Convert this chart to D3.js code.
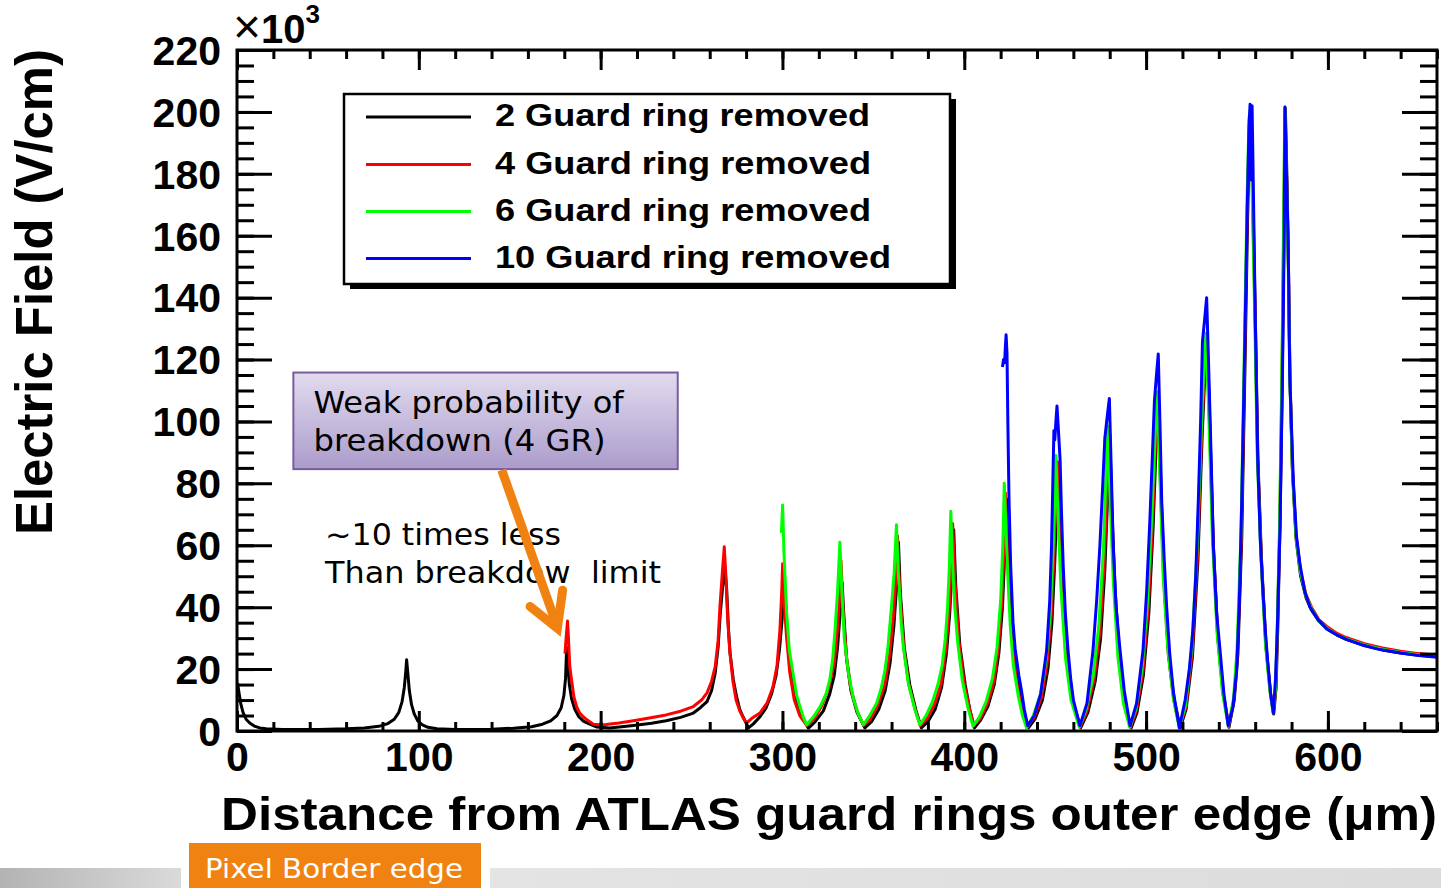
<!DOCTYPE html>
<html>
<head>
<meta charset="utf-8">
<script src="https://cdn.jsdelivr.net/npm/d3@7"></script>
<style>
  html, body { margin: 0; padding: 0; background: #ffffff; }
  svg { display: block; }
</style>
</head>
<body>
<svg id="chart" width="1441" height="888"></svg>
<script>
// Electric field (in units of 10^3 V/cm) versus distance from the ATLAS guard rings outer edge (um)

const seriesNames = [
  "2 Guard ring removed",
  "4 Guard ring removed",
  "6 Guard ring removed",
  "10 Guard ring removed"
];
const seriesColors = ["#000000", "#ff0000", "#00ff00", "#0000ff"];

// [distance (um), field (x10^3 V/cm)]
const gr2 = [
  [0.3,15.5],[1.2,12],[2.2,8.5],[3.3,6],[5,3.8],[7,2.6],[9.5,1.6],[12.5,1.0],[16,0.7],[25,0.5],
  [45,0.5],[60,0.7],[70,1.0],[78,1.5],[83,2.4],[86.5,3.8],[89,6],[90.8,9.5],[92,14],[92.8,19],
  [93.3,23],[93.9,19],[94.8,13],[96,8.5],[97.5,5.5],[99.5,3.2],[102,2],[105,1.2],[110,0.7],[120,0.5],
  [140,0.6],[152,0.9],[162,1.4],[168,2.2],[172.5,3.3],[176,5],[178.3,7.5],[179.8,11.5],[180.7,17],[181.3,27],
  [182,21],[182.8,15],[184,10.5],[185.8,7],[188,4.6],[190.5,3.2],[194,2.2],[198,1.3],[205,1.0],[218,1.8],
  [228,2.5],[236,3.3],[244,4.4],[251,5.8],[255,7.6],[258.5,9.5],[261,13],[263,18.7],[264.6,27],[265.8,38],
  [267,46],[268.4,52],[269.3,46],[270.3,33],[271.2,25],[273,16.5],[274.8,11],[276.5,7],[278.3,4.6],[281.3,1.0],
  [284,2.3],[287.5,4.5],[291,7.5],[294,12],[296.5,18],[298.3,26],[299.8,36],[301,49],[301.9,40],[303.2,27],
  [305,17],[307.5,9.5],[310.5,4.5],[314.3,0.9],[318,3],[322.5,6.5],[326,12],[328.5,18],[330.3,27],[331.6,37],
  [332.8,48],[333.7,38],[335.3,23],[337.7,13],[341,6],[345.3,1.0],[349,3],[353,7],[356.5,13],[359.2,22],
  [361.3,34],[362.8,47],[363.8,61],[364.8,45],[367,27],[370,15],[373.5,6.5],[376.4,1.0],[380,3],[384,7],
  [387.5,14],[390.2,25],[392,38],[393.2,52],[394.2,65],[395.3,47],[397.5,28],[400.5,15],[403,7],[405.6,1.0],
  [409,3.5],[413,8],[416.5,15],[419,25],[421,40],[422.3,58],[423.2,75],[424.3,55],[426.5,32],[429.5,15],
  [432.5,6],[435.3,1.0],[439,4],[443,10],[446,20],[448.2,35],[449.8,55],[451,75],[451.7,86],[452.8,65],
  [454.5,42],[457,22],[460,9],[464,1.0],[468,6],[472,16],[475,30],[477.3,52],[479,78],[480,96],
  [481.3,70],[483,45],[485.6,22],[488.5,8],[491.8,1.0],[495,6],[498.5,18],[501.5,38],[503.8,65],[505.5,92],
  [506.8,107],[508.2,78],[510,48],[512.5,24],[515.5,10],[518.8,1.0],[522,7],[525.5,24],[528.5,55],[530.8,95],
  [532.5,118],[533.6,126],[535,100],[537,60],[539.5,30],[542.5,12],[545.6,1.2],[548.5,10],[550.5,25],[552.6,62],
  [554.4,118],[555.8,165],[557,196],[557.8,200],[559,165],[560.2,130],[561.5,88],[563.5,55],[566,27],[568.5,12],
  [570.2,5.5],[571.5,14],[572.4,33],[573.6,65],[574.8,110],[575.8,160],[576.6,201],[577.6,175],[578.3,150],[579.2,112],
  [580.5,84],[582.5,62],[585,50],[588,43],[591,39],[595,35.5],[600,32.8],[605,31],[610,29.6],[620,27.6],
  [630,26.2],[640,25.2],[650,24.5],[660,24]
];

const gr4 = [
  [180.4,25],[181,30],[181.8,35.5],[182.3,30],[183,21],[184,16.5],[185.3,11],[186.8,7.9],[188.5,5.8],[190.4,4.6],
  [192.5,3.6],[194,3],[196,2.2],[199,2.0],[203,2.1],[210,2.6],[218,3.3],[226,4.1],[236,5.2],[244,6.4],
  [251,7.9],[255.5,10],[258.5,12.3],[261,16],[263,20.8],[264.6,29],[265.6,40],[266.8,50],[268,59.5],[268.9,50],
  [269.8,37],[271,26],[272.8,16],[274.5,10],[276.5,6.5],[278.5,4.2],[280.3,2.6],[283,4],[287.6,5.8],[291.5,9],
  [294.8,14.3],[297,21],[298.6,32.6],[299.6,45],[300.1,54],[300.9,42],[302.3,30],[304,19],[306.5,10],[309.5,5],
  [313.4,1.8],[317.5,4],[321.5,8],[325.5,14],[328.5,22],[330.3,33],[331.5,44],[332.2,55],[333.2,40],[335,25],
  [337.5,14],[341,6.5],[344.6,1.8],[348.5,4],[352.5,8.5],[356.3,15],[359,25],[361,37],[362.5,50],[363.3,63],
  [364.4,46],[366.7,27],[369.5,15],[373.2,6.5],[375.8,1.8],[379.5,4],[383.5,8.5],[387.2,15],[390,27],[391.8,40],
  [392.8,54],[393.6,67],[394.8,49],[397,29],[400,15],[403,7],[405.2,1.8],[408.8,4],[412.8,9],[416.3,16],
  [418.8,27],[420.8,43],[421.9,60],[422.6,77],[423.8,56],[426,32],[429,15],[432,6.5],[434.8,1.5],[438.5,4.5],
  [442.5,11],[445.6,22],[447.8,37],[449.4,58],[450.6,78],[451.3,87],[452.4,66],[454.1,43],[456.6,22],[459.6,9],
  [463.7,1.2],[467.5,6.5],[471.5,17],[474.6,32],[477,55],[478.7,80],[479.7,97],[480.9,72],[482.6,46],[485.2,22],
  [488.2,8],[491.4,1.2],[494.6,6.5],[498.2,19],[501.2,40],[503.5,67],[505.2,94],[506.5,108],[507.9,80],[509.7,49],
  [512.2,25],[515.2,10],[518.4,1.2],[521.8,7.5],[525.3,25],[528.3,57],[530.6,97],[532.3,119],[533.4,127],[534.8,101],
  [536.8,61],[539.3,31],[542.3,12],[545.4,1.5],[548.3,10],[550.3,26],[552.4,63],[554.2,120],[555.6,167],[556.8,197],
  [557.6,201],[558.8,166],[560,132],[561.3,89],[563.3,56],[565.8,28],[568.3,12.5],[570,5.8],[571.3,14],[572.2,33],
  [573.5,66],[574.7,112],[575.7,162],[576.4,201],[577.4,176],[578.2,153],[579.1,115],[580.5,85],[582.5,63],[585,51.5],
  [588,44],[591,40],[595,36],[600,33.5],[605,31.5],[610,30.2],[620,28.2],[630,26.8],[640,25.8],[650,25],
  [660,24.5]
];

const gr6 = [
  [299.4,64],[300.1,73],[300.8,58],[302.3,38],[303.8,26],[305.8,18.7],[307.8,11.5],[309.6,7.9],[311.5,4.5],[313.3,2],
  [317,4.5],[320.7,7.9],[324,12],[326,16.5],[327.6,23],[328.9,32.6],[330.3,45],[331.6,61],[332.6,46],[334,30],
  [336.2,19],[339,10.5],[341.7,5.5],[344.5,2],[348,5],[351.8,9],[354.4,14],[356.4,19.7],[358,27],[359.2,35],
  [360.5,44],[361.4,51],[362.7,66.6],[363.6,52],[364.3,45.6],[365.3,35],[366.5,27.2],[369.2,15.5],[372.9,6.8],[375.6,2],
  [379,5],[382.5,9.5],[385.5,15],[387.8,21],[389.6,30],[390.8,40],[391.8,53],[392.6,71],[393.5,55],[394.8,40],
  [396.3,29],[399,16],[402,7.5],[404.8,1.6],[408.3,4.5],[412,9.5],[415.5,17],[418,27],[420,42],[421.2,60],
  [422,80],[423,64],[424,49.5],[425.3,34],[427,21],[429.8,11],[432,5],[434.3,1],[438,5],[442,12],
  [445,23],[447.3,38],[448.8,58],[450,78],[450.4,89],[451.5,70],[453.2,46],[455.6,24],[458.7,10],[463.3,1.2],
  [467,7],[471,18],[474,34],[476.5,58],[478,84],[478.9,98.5],[480.2,75],[482,48],[484.5,24],[487.5,9],
  [491,1.2],[494.3,7],[497.8,20],[500.8,42],[503.2,70],[505,96],[506.2,109.5],[507.6,82],[509.4,50],[512,26],
  [515,10.5],[518.2,1.2],[521.6,8],[525,26],[528,58],[530.4,98],[532,120],[533,128.5],[534.5,102],[536.5,62],
  [539,32],[542,12.5],[545.2,1.5],[548.1,10.5],[550,26],[552.2,64],[554,122],[555.4,168],[556.6,198],[557.4,201],
  [558.6,167],[559.8,133],[561.1,90],[563.1,57],[565.6,28.5],[568.1,12.8],[569.9,5.8],[571.2,14],[572.1,33],[573.4,66],
  [574.6,113],[575.6,163],[576.3,201.5],[577.3,177],[578.1,154],[579,115],[580.5,84],[582.5,62.5],[585,51],[588,43.5],
  [591,39.5],[595,35.5],[600,33],[605,31],[610,29.8],[620,27.8],[630,26.4],[640,25.4],[650,24.6],[660,24]
];

const gr10 = [
  [421,117.6],[421.6,120],[422.2,119],[422.6,124],[423,128],[423.5,122],[424,98.5],[424.6,75],[425.5,53.6],[426.8,35],
  [428,26.5],[430,18],[431.5,12.9],[433,7],[434.9,1.7],[438.5,5],[442,12],[445.3,26],[447,42],[448,60],
  [449.3,97],[449.8,94],[450.4,100],[451,105],[451.7,98],[452.7,87.6],[453.5,70],[454.4,53.6],[455.6,38],[457,26.5],
  [458.5,17],[460,10],[463.6,1.7],[467.5,9],[470.8,26],[472.8,42],[474.6,60],[476.2,80],[477.3,94.5],[478.5,101],
  [479.8,107.4],[480.8,85],[481.9,60],[483.5,40],[485.6,26.5],[488,13],[491.2,1.7],[494.8,9],[498.3,26],[500.3,45],
  [502,67],[503.4,88],[504.6,106.7],[505.7,115],[506.7,121.8],[507.6,100],[508.6,74],[510,55],[511.3,40],[513,25],
  [515,12.6],[518.3,1],[521.5,10],[523.8,20],[525.8,33],[527.3,50],[528.7,74],[530,100],[531,125.8],[532.2,133],
  [533.3,140],[534.2,122],[535.2,101],[537,60],[538.8,38],[540.6,26.5],[542.8,12],[545.2,1.7],[547.8,8],[549.8,19.5],
  [551.3,42],[552.6,74],[554.4,128.6],[555.7,171],[556.6,195],[557.2,202.5],[557.5,180],[557.9,178],[558.3,202],[559,175],
  [560,135],[561.4,87.6],[562.8,62],[564.1,46.8],[565.5,33],[566.9,22.3],[568.5,12],[570,5.8],[571.2,17],[572.2,33],
  [573.7,67],[575,115],[575.9,156],[576.4,201.6],[577.3,178],[578.2,156],[579,115],[581,80.5],[582.7,63],[584.7,53.6],
  [587.3,45],[590.2,40],[594.5,36],[599.3,33],[605,31],[610.3,29.6],[620,27.6],[628.6,26.3],[640,25.2],[650,24.4],
  [660,23.8]
];

const seriesData = [gr2, gr4, gr6, gr10];

// axis ticks
const xMajorTicks = [0, 100, 200, 300, 400, 500, 600];
const xMinorTicks = d3.range(0, 661, 20);
const yMajorTicks = [0, 20, 40, 60, 80, 100, 120, 140, 160, 180, 200, 220];
const yMinorTicks = d3.range(0, 221, 5);

const xTitle = "Distance from ATLAS guard rings outer edge (\u03bcm)";
const yTitle = "Electric Field (V/cm)";

// annotation anchors, in data units
const noteBox = { x0: 31.0, x1: 242.4, y0: 115.8, y1: 84.6 };
const noteLines = ["Weak probability of", "breakdown (4 GR)"];
const noteLineY = [102.6, 90.5];
const remarkLines = ["~10 times less", "Than breakdow  limit"];
const remarkLineY = [60.1, 47.9];
const arrowFrom = [145.6, 84.3];
const arrowTip = [176.2, 33.2];
const arrowArms = [[161.2, 40.2], [179.1, 45.5]];

const svg = d3.select("#chart");
const W = 1441, H = 888;
const plot = { left: 237, right: 1437, top: 50, bottom: 731 };

const x = d3.scaleLinear().domain([0, 660]).range([plot.left, plot.right]);
const y = d3.scaleLinear().domain([0, 220]).range([plot.bottom, plot.top]);

const boldFont = "'Liberation Sans', Arial, Helvetica, sans-serif";
const noteFont = "'DejaVu Sans', Verdana, sans-serif";

svg.append("rect").attr("width", W).attr("height", H).attr("fill", "#ffffff");

// ---- bottom slide strip ----
const defs = svg.append("defs");
const gl = defs.append("linearGradient").attr("id", "stripLeft").attr("x1", "0").attr("x2", "1").attr("y1", "0").attr("y2", "0");
gl.append("stop").attr("offset", "0").attr("stop-color", "#b3b3b3");
gl.append("stop").attr("offset", "1").attr("stop-color", "#dadada");
const gr = defs.append("linearGradient").attr("id", "stripRight").attr("x1", "0").attr("x2", "1").attr("y1", "0").attr("y2", "0");
gr.append("stop").attr("offset", "0").attr("stop-color", "#e4e4e4");
gr.append("stop").attr("offset", "1").attr("stop-color", "#dcdcdc");
const gn = defs.append("linearGradient").attr("id", "noteFill").attr("x1", "0").attr("x2", "0").attr("y1", "0").attr("y2", "1");
gn.append("stop").attr("offset", "0").attr("stop-color", "#e2dbef");
gn.append("stop").attr("offset", "1").attr("stop-color", "#ab9ccb");

svg.append("rect").attr("x", 0).attr("y", 868).attr("width", 181).attr("height", 20).attr("fill", "url(#stripLeft)");
svg.append("rect").attr("x", 490).attr("y", 868).attr("width", W - 490).attr("height", 20).attr("fill", "url(#stripRight)");
svg.append("rect").attr("x", 189).attr("y", 843).attr("width", 292).attr("height", 45).attr("fill", "#ef8210");
svg.append("text").attr("x", 205).attr("y", 878).attr("font-family", noteFont).attr("font-size", 27)
  .attr("fill", "#ffffff").attr("textLength", 258).attr("lengthAdjust", "spacingAndGlyphs")
  .text("Pixel Border edge");

// ---- curves ----
defs.append("clipPath").attr("id", "plotClip").append("rect")
  .attr("x", plot.left).attr("y", plot.top - 2)
  .attr("width", plot.right - plot.left).attr("height", plot.bottom - plot.top + 2);

const line = d3.line().x(d => x(d[0])).y(d => y(d[1]));
const curves = svg.append("g").attr("clip-path", "url(#plotClip)");
seriesData.forEach((data, i) => {
  curves.append("path").datum(data)
    .attr("d", line)
    .attr("fill", "none")
    .attr("stroke", seriesColors[i])
    .attr("stroke-width", 3)
    .attr("stroke-linejoin", "round");
});

// ---- axes (ticks drawn inward on all four sides) ----
function styleAxis(g) {
  g.select(".domain").remove();
  g.selectAll(".tick line").attr("stroke", "#000").attr("stroke-width", 3);
}
svg.append("g").attr("transform", `translate(${plot.left},0)`)
  .call(d3.axisLeft(y).tickValues(yMinorTicks).tickSize(-17).tickFormat(""))
  .call(styleAxis);
svg.append("g").attr("transform", `translate(${plot.left},0)`)
  .call(d3.axisLeft(y).tickValues(yMajorTicks).tickSize(-35).tickPadding(16).tickFormat(d3.format("d")))
  .call(styleAxis)
  .call(g => g.selectAll("text").attr("font-family", boldFont).attr("font-weight", "bold")
    .attr("font-size", 41).attr("fill", "#000").attr("dy", "0.35em"));
svg.append("g").attr("transform", `translate(${plot.right},0)`)
  .call(d3.axisRight(y).tickValues(yMinorTicks).tickSize(-17).tickFormat(""))
  .call(styleAxis);
svg.append("g").attr("transform", `translate(${plot.right},0)`)
  .call(d3.axisRight(y).tickValues(yMajorTicks).tickSize(-35).tickFormat(""))
  .call(styleAxis);

svg.append("g").attr("transform", `translate(0,${plot.bottom})`)
  .call(d3.axisBottom(x).tickValues(xMinorTicks).tickSize(-9).tickFormat(""))
  .call(styleAxis);
svg.append("g").attr("transform", `translate(0,${plot.bottom})`)
  .call(d3.axisBottom(x).tickValues(xMajorTicks).tickSize(-20).tickPadding(11).tickFormat(d3.format("d")))
  .call(styleAxis)
  .call(g => g.selectAll("text").attr("font-family", boldFont).attr("font-weight", "bold")
    .attr("font-size", 41).attr("fill", "#000"));
svg.append("g").attr("transform", `translate(0,${plot.top})`)
  .call(d3.axisTop(x).tickValues(xMinorTicks).tickSize(-9).tickFormat(""))
  .call(styleAxis);
svg.append("g").attr("transform", `translate(0,${plot.top})`)
  .call(d3.axisTop(x).tickValues(xMajorTicks).tickSize(-20).tickFormat(""))
  .call(styleAxis);

// frame
svg.append("rect")
  .attr("x", plot.left).attr("y", plot.top)
  .attr("width", plot.right - plot.left).attr("height", plot.bottom - plot.top)
  .attr("fill", "none").attr("stroke", "#000").attr("stroke-width", 3);

// exponent label
const expo = svg.append("text").attr("x", 233).attr("y", 43).attr("font-family", boldFont).attr("fill", "#000");
expo.append("tspan").attr("font-size", 48).text("\u00d7");
expo.append("tspan").attr("font-size", 40).attr("font-weight", "bold").text("10");
expo.append("tspan").attr("font-size", 26).attr("font-weight", "bold").attr("dy", -20).text("3");

// axis titles
svg.append("text")
  .attr("x", 221).attr("y", 830)
  .attr("font-family", boldFont).attr("font-weight", "bold").attr("font-size", 46)
  .attr("textLength", 1216).attr("lengthAdjust", "spacingAndGlyphs")
  .attr("fill", "#000").text(xTitle);
svg.append("text")
  .attr("transform", "translate(52,292) rotate(-90)")
  .attr("text-anchor", "middle")
  .attr("font-family", boldFont).attr("font-weight", "bold").attr("font-size", 52)
  .attr("textLength", 486).attr("lengthAdjust", "spacingAndGlyphs")
  .attr("fill", "#000").text(yTitle);

// ---- legend ----
const leg = { x0: 344, y0: 94, x1: 950, y1: 284 };
svg.append("rect").attr("x", leg.x0 + 6).attr("y", leg.y0 + 5)
  .attr("width", leg.x1 - leg.x0).attr("height", leg.y1 - leg.y0).attr("fill", "#000");
svg.append("rect").attr("x", leg.x0).attr("y", leg.y0)
  .attr("width", leg.x1 - leg.x0).attr("height", leg.y1 - leg.y0)
  .attr("fill", "#fff").attr("stroke", "#000").attr("stroke-width", 2.5);
const legendRowY = [117, 164.5, 211.5, 258.5];
const legendTextW = [375, 376, 376, 396];
seriesNames.forEach((name, i) => {
  svg.append("line").attr("x1", 366).attr("x2", 471)
    .attr("y1", legendRowY[i]).attr("y2", legendRowY[i])
    .attr("stroke", seriesColors[i]).attr("stroke-width", 3);
  svg.append("text").attr("x", 495).attr("y", legendRowY[i] + 9)
    .attr("font-family", boldFont).attr("font-weight", "bold").attr("font-size", 32)
    .attr("textLength", legendTextW[i]).attr("lengthAdjust", "spacingAndGlyphs")
    .attr("fill", "#000").text(name);
});

// ---- annotation ----
svg.append("rect")
  .attr("x", x(noteBox.x0)).attr("y", y(noteBox.y0))
  .attr("width", x(noteBox.x1) - x(noteBox.x0)).attr("height", y(noteBox.y1) - y(noteBox.y0))
  .attr("fill", "url(#noteFill)").attr("stroke", "#7a5c9d").attr("stroke-width", 2);
const noteW = [310, 292];
noteLines.forEach((t, i) => {
  svg.append("text").attr("x", x(42.1)).attr("y", y(noteLineY[i]))
    .attr("font-family", noteFont).attr("font-size", 30)
    .attr("textLength", noteW[i]).attr("lengthAdjust", "spacingAndGlyphs")
    .attr("fill", "#000").text(t);
});
const remarkW = [236, 336];
remarkLines.forEach((t, i) => {
  svg.append("text").attr("x", x(48.4)).attr("y", y(remarkLineY[i]))
    .attr("font-family", noteFont).attr("font-size", 30)
    .style("white-space", "pre")
    .attr("textLength", remarkW[i]).attr("lengthAdjust", "spacingAndGlyphs")
    .attr("fill", "#000").text(t);
});

// orange arrow pointing at the 4 GR peak
svg.append("line")
  .attr("x1", x(arrowFrom[0])).attr("y1", y(arrowFrom[1]))
  .attr("x2", x(arrowTip[0]) - 1).attr("y2", y(arrowTip[1]) - 4)
  .attr("stroke", "#ef8210").attr("stroke-width", 9);
svg.append("path")
  .attr("d", d3.line()([
    [x(arrowArms[0][0]), y(arrowArms[0][1])],
    [x(arrowTip[0]), y(arrowTip[1])],
    [x(arrowArms[1][0]), y(arrowArms[1][1])]
  ]))
  .attr("fill", "none").attr("stroke", "#ef8210").attr("stroke-width", 9)
  .attr("stroke-linecap", "round").attr("stroke-linejoin", "miter");
</script>
</body>
</html>
